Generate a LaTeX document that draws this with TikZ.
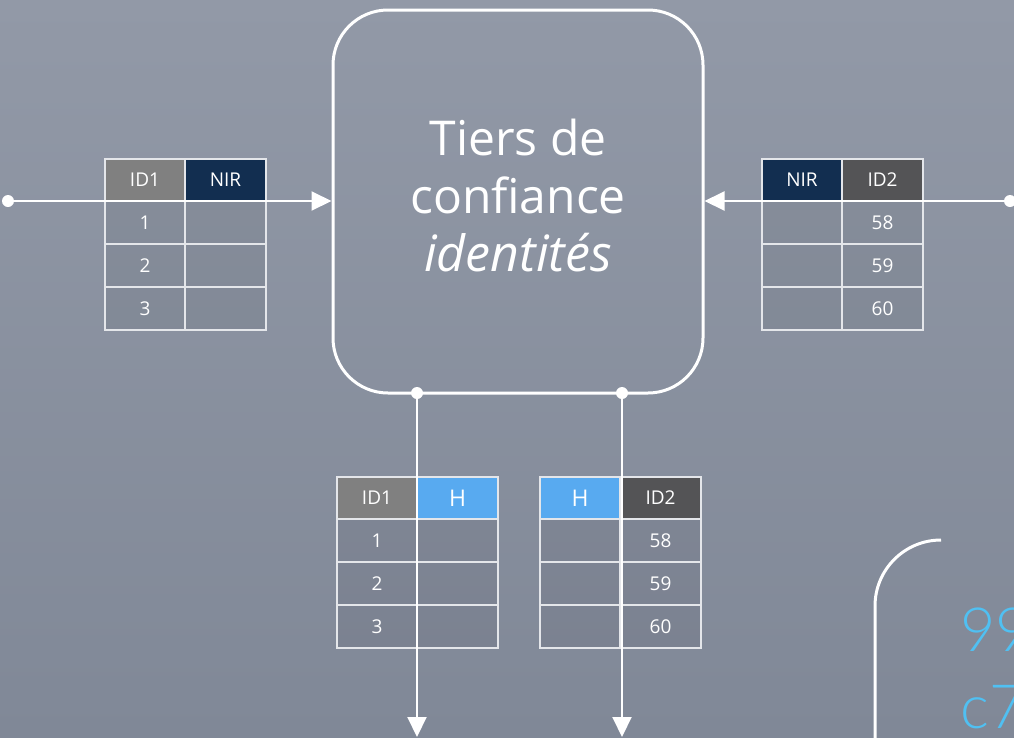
\documentclass[tikz,border=0pt]{standalone}
\usepackage{fontspec}
\setmainfont{Open Sans}
\newfontfamily\thinfont{Lato Light}
\usetikzlibrary{arrows.meta,calc}
\definecolor{bgtop}{RGB}{146,153,167}
\definecolor{bgbot}{RGB}{128,136,151}
\definecolor{gridc}{RGB}{228,230,234}
\definecolor{hgray}{RGB}{128,128,128}
\definecolor{hdark}{RGB}{84,84,86}
\definecolor{hnavy}{RGB}{18,46,80}
\definecolor{hblue}{RGB}{88,170,240}
\definecolor{codeblue}{RGB}{80,192,242}
\tikzset{
  cellbase/.style={draw=gridc, line width=2.5pt, inner sep=0pt, text=white,
    font=\fontsize{19}{22}\selectfont, minimum height=42pt},
  hcell/.style={cellbase},
  bcell/.style={cellbase, fill=black, fill opacity=0.05, text opacity=1, minimum height=43pt},
  hg/.style={fill=hgray},
  hd/.style={fill=hdark},
  hn/.style={fill=hnavy},
  hb/.style={fill=hblue, font=\fontsize{23}{26}\selectfont},
  tiersbox/.style={draw=white, line width=3pt, rounded corners=55pt,
    minimum width=370pt, minimum height=383pt},
  conn/.style={draw=white, line width=2pt, -{Triangle[length=20pt,width=19pt]}},
  dot/.style={fill=white},
}
% #1 name, #2 x0, #3 y0, #4 hdr style 1, #5 hdr text 1, #6 hdr style 2, #7 hdr text 2, #8 rows a/b
\newcommand\dtable[8]{%
  \node[hcell,#4,minimum width=80pt] (#1h1) at ({#2+40},{#3+21}) {#5};
  \node[hcell,#6,minimum width=81pt] (#1h2) at ({#2+120.5},{#3+21}) {#7};
  \foreach \a/\b [count=\i] in {#8} {
    \node[bcell,minimum width=80pt] (#1r\i a) at ({#2+40},{#3+42+43*\i-21.5}) {\a};
    \node[bcell,minimum width=81pt] (#1r\i b) at ({#2+120.5},{#3+42+43*\i-21.5}) {\b};
  }%
}
\begin{document}
\begin{tikzpicture}[x=1pt,y=-1pt]
\useasboundingbox (0,0) rectangle (1014,737);
\shade[top color=bgtop, bottom color=bgbot] (0,0) rectangle (1014,737);
\begin{scope}
\clip (0,0) rectangle (1014,737);

% central box
\node[tiersbox] (tiers) at (518,201.5) {};
\node[text=white, align=center, font=\fontsize{48}{58}\selectfont] (tierstext) at (518,196)
  {Tiers de\\confiance\\\textit{\fontsize{50}{58}\selectfont identités}};

% tables
\dtable{tl}{105}{159}{hg}{ID1}{hn}{NIR}{1/{},2/{},3/{}}
\dtable{tr}{762}{159}{hn}{NIR}{hd}{ID2}{{}/58,{}/59,{}/60}
\dtable{bl}{337}{477}{hg}{ID1}{hb}{H}{1/{},2/{},3/{}}
\dtable{br}{540}{477}{hb}{H}{hd}{ID2}{{}/58,{}/59,{}/60}

% connectors
\coordinate (lsrc) at (8,201);
\coordinate (rsrc) at (1010,201);
\coordinate (b1) at (417,393);
\coordinate (b2) at (622,393);
\coordinate (e1) at (417,737);
\coordinate (e2) at (622,737);
\draw[conn] (lsrc) -- (lsrc -| tiers.west);
\draw[conn] (rsrc) -- (rsrc -| tiers.east);
\draw[conn] (b1) -- (e1);
\draw[conn] (b2) -- (e2);
\fill[dot] (lsrc) circle (6);
\fill[dot] (rsrc) circle (6);
\fill[dot] (b1) circle (6);
\fill[dot] (b2) circle (6);

% bottom-right fragment
\coordinate (arcstart) at (941,540);
\coordinate (arcend) at (875,745);
\draw[white, line width=3pt, rounded corners=66pt] (arcstart) -| (arcend);
\node[anchor=base west, inner sep=0pt, text=codeblue, font=\thinfont\fontsize{61}{61}\selectfont] (code1) at (960,651) {99};
\node[anchor=base west, inner sep=0pt, text=codeblue, font=\thinfont\fontsize{61}{61}\selectfont] (code2) at (960,728) {c7};
\end{scope}
\end{tikzpicture}
\end{document}
